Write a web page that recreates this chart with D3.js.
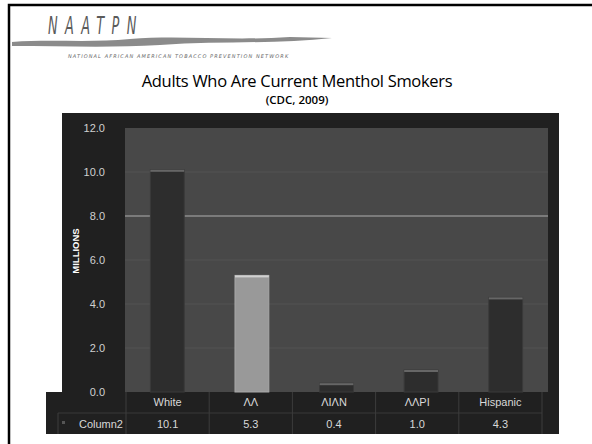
<!DOCTYPE html>
<html>
<head>
<meta charset="utf-8">
<script src="https://cdn.jsdelivr.net/npm/d3@7"></script>
<style>
  body { margin: 0; background: #fff; }
  svg { display: block; }
</style>
</head>
<body>
<svg width="592" height="444"></svg>
<script>
// data
var categories = ["White", "AA", "AIAN", "AAPI", "Hispanic"];
var labels = ["White", "\u039B\u039B", "\u039BI\u039BN", "\u039B\u039BPI", "Hispanic"];
var values = [10.1, 5.3, 0.4, 1.0, 4.3];
var tickValues = [0, 2, 4, 6, 8, 10, 12];
var seriesName = "Column2";

var svg = d3.select("svg");

// slide frame
svg.append("path")
    .attr("d", "M9,444 V5 H592")
    .attr("fill", "none")
    .attr("stroke", "#000")
    .attr("stroke-width", 2.5);

// logo
var logo = svg.append("g");
logo.append("text")
    .attr("transform", "translate(48,34) scale(0.7,1.25)")
    .attr("font-family", "DejaVu Sans Condensed, sans-serif")
    .attr("font-style", "italic")
    .attr("font-size", 20.5)
    .attr("letter-spacing", 10.5)
    .attr("fill", "#5a5a5a")
    .text("NAATPN");
logo.append("path")
    .attr("d", "M12,42 C50,39 90,43 130,39 C180,35 230,41 290,37 L332,38 C280,44 220,41 160,45 C110,48 60,46 12,46 Z")
    .attr("fill", "#777")
    .attr("opacity", 0.85);
logo.append("text")
    .attr("x", 68).attr("y", 58)
    .attr("font-family", "DejaVu Sans, sans-serif")
    .attr("font-style", "italic")
    .attr("font-size", 5)
    .attr("letter-spacing", 1.1)
    .attr("fill", "#666")
    .text("NATIONAL AFRICAN AMERICAN TOBACCO PREVENTION NETWORK");

// titles
svg.append("text")
    .attr("x", 297).attr("y", 87)
    .attr("text-anchor", "middle")
    .attr("font-family", "Open Sans, sans-serif")
    .attr("font-size", 16.5)
    .attr("fill", "#000")
    .attr("letter-spacing", -0.3)
    .text("Adults Who Are Current Menthol Smokers");
svg.append("text")
    .attr("x", 297).attr("y", 104)
    .attr("text-anchor", "middle")
    .attr("font-family", "Open Sans, sans-serif")
    .attr("font-weight", 600)
    .attr("font-size", 11.5)
    .attr("fill", "#000")
    .text("(CDC, 2009)");

// dark panel
svg.append("rect").attr("x", 62).attr("y", 113).attr("width", 497).attr("height", 280).attr("fill", "#202020");
svg.append("rect").attr("x", 46).attr("y", 392).attr("width", 513).attr("height", 42).attr("fill", "#202020");

var plot = {left: 125, right: 548, top: 128, bottom: 392};

var y = d3.scaleLinear().domain([0, 12]).range([plot.bottom, plot.top]);
var x = d3.scaleBand().domain(categories).range([plot.left, plot.right]).paddingInner(0.6).paddingOuter(0.3);
var xTable = d3.scaleBand().domain(categories).range([126, 542]);

// plot background
svg.append("rect")
    .attr("x", plot.left).attr("y", plot.top)
    .attr("width", plot.right - plot.left).attr("height", plot.bottom - plot.top)
    .attr("fill", "#484848");

// gridlines
svg.append("g").selectAll("line")
    .data(tickValues.filter(function(d) { return d > 0 && d < 12; }))
    .enter().append("line")
    .attr("x1", plot.left).attr("x2", plot.right)
    .attr("y1", function(d) { return y(d); }).attr("y2", function(d) { return y(d); })
    .attr("stroke", function(d) { return d === 8 ? "#8c8c8c" : "#535353"; })
    .attr("stroke-width", function(d) { return d === 8 ? 1.5 : 1; });

// y axis
var yAxis = svg.append("g")
    .attr("transform", "translate(" + (plot.left - 17) + ",0)")
    .call(d3.axisLeft(y).tickValues(tickValues).tickFormat(d3.format(".1f")).tickSize(0));
yAxis.select(".domain").remove();
yAxis.selectAll("text")
    .attr("font-family", "Liberation Sans, Arial, sans-serif")
    .attr("font-size", 11)
    .attr("fill", "#d0d0d0");

svg.append("text")
    .attr("transform", "translate(79,251) rotate(-90)")
    .attr("text-anchor", "middle")
    .attr("font-family", "Liberation Sans, Arial, sans-serif")
    .attr("font-weight", "bold")
    .attr("font-size", 9.5)
    .attr("fill", "#fff")
    .text("MILLIONS");

// bars
var bars = svg.append("g").selectAll("g")
    .data(categories.map(function(c, i) { return {key: c, value: values[i]}; }))
    .enter().append("g");
bars.append("rect")
    .attr("x", function(d) { return x(d.key); })
    .attr("y", function(d) { return y(d.value); })
    .attr("width", x.bandwidth())
    .attr("height", function(d) { return y(0) - y(d.value); })
    .attr("fill", function(d) { return d.key === "AA" ? "#999999" : "#2d2d2d"; })
    .attr("stroke", function(d) { return d.key === "AA" ? "#a8a8a8" : "#3a3a3a"; })
    .attr("stroke-width", 1);
bars.append("rect")
    .attr("x", function(d) { return x(d.key); })
    .attr("y", function(d) { return y(d.value); })
    .attr("width", x.bandwidth())
    .attr("height", 2)
    .attr("fill", function(d) { return d.key === "AA" ? "#d0d0d0" : "#666"; });

// data table
var table = svg.append("g");
table.append("line")
    .attr("x1", 58).attr("x2", 542).attr("y1", 413).attr("y2", 413)
    .attr("stroke", "#383838");
table.selectAll("line.v")
    .data([126].concat(categories.map(function(c) { return xTable(c) + xTable.bandwidth(); })))
    .enter().append("line")
    .attr("class", "v")
    .attr("x1", function(d) { return d; }).attr("x2", function(d) { return d; })
    .attr("y1", 392).attr("y2", 434)
    .attr("stroke", "#3c3c3c");
table.append("line")
    .attr("x1", 58).attr("x2", 58).attr("y1", 413).attr("y2", 434)
    .attr("stroke", "#3c3c3c");
table.selectAll("text.cat")
    .data(categories)
    .enter().append("text")
    .attr("class", "cat")
    .attr("x", function(d) { return xTable(d) + xTable.bandwidth() / 2; })
    .attr("y", 406)
    .attr("text-anchor", "middle")
    .attr("font-family", "Liberation Sans, Arial, sans-serif")
    .attr("font-size", 11)
    .attr("fill", "#d8d8d8")
    .text(function(d, i) { return labels[i]; });
table.selectAll("text.val")
    .data(values)
    .enter().append("text")
    .attr("class", "val")
    .attr("x", function(d, i) { return xTable(categories[i]) + xTable.bandwidth() / 2; })
    .attr("y", 428)
    .attr("text-anchor", "middle")
    .attr("font-family", "Liberation Sans, Arial, sans-serif")
    .attr("font-size", 11)
    .attr("fill", "#d8d8d8")
    .text(function(d) { return d3.format(".1f")(d); });
table.append("rect")
    .attr("x", 62).attr("y", 421).attr("width", 3).attr("height", 3)
    .attr("fill", "#555");
table.append("text")
    .attr("x", 123).attr("y", 428)
    .attr("text-anchor", "end")
    .attr("font-family", "Liberation Sans, Arial, sans-serif")
    .attr("font-size", 11)
    .attr("fill", "#d8d8d8")
    .text(seriesName);
</script>
</body>
</html>
